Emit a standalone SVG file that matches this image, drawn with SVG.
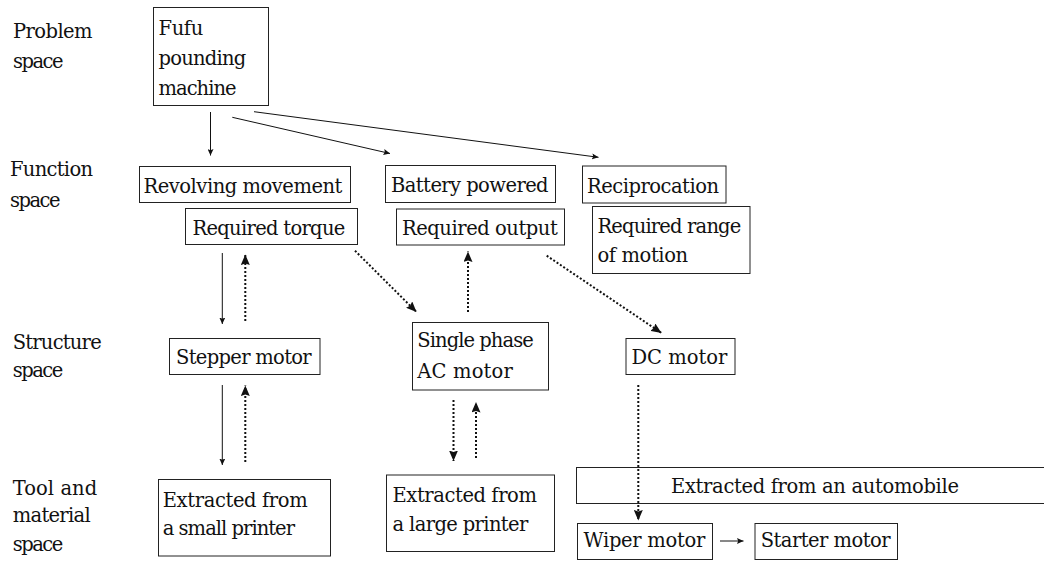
<svg xmlns="http://www.w3.org/2000/svg" width="1044" height="562" viewBox="0 0 1044 562">
  <style>
    .box { fill: #fff; stroke: #222; stroke-width: 1; }
    .solid { stroke: #111; stroke-width: 1; fill: none; marker-end: url(#headSmall); }
    .dotted { stroke: #111; stroke-width: 2; stroke-dasharray: 2 2; fill: none; marker-end: url(#headLarge); }
  </style>
  <defs>
    <marker id="headSmall" markerUnits="userSpaceOnUse" markerWidth="7" markerHeight="6" refX="6.5" refY="3" orient="auto">
      <path d="M0,0 L6.5,3 L0,6 L1.2,3 z" fill="#111"/>
    </marker>
    <marker id="headLarge" markerUnits="userSpaceOnUse" markerWidth="11" markerHeight="9" refX="10.5" refY="4.5" orient="auto">
      <path d="M0,0 L10.5,4.5 L0,9 L1.5,4.5 z" fill="#111"/>
    </marker>
  </defs>

  <g font-family="DejaVu Serif, serif" font-size="19.5" fill="#111">
  <!-- space labels -->
  <g id="labels">
    <text x="13" y="37.7" textLength="79.6">Problem</text>
    <text x="13" y="67.7" textLength="50.5">space</text>
    <text x="10" y="176" textLength="83">Function</text>
    <text x="10" y="206.5" textLength="50.5">space</text>
    <text x="12.7" y="349.3" textLength="89">Structure</text>
    <text x="12.7" y="377" textLength="50.5">space</text>
    <text x="12.7" y="495" textLength="84.5">Tool and</text>
    <text x="12.7" y="522.3" textLength="78">material</text>
    <text x="12.7" y="550.7" textLength="50.5">space</text>
  </g>

  <!-- problem space -->
  <g id="fufu">
    <rect class="box" x="153.5" y="7.5" width="115" height="98"/>
    <text x="158.5" y="34.5" textLength="44.7">Fufu</text>
    <text x="158.5" y="65" textLength="87.7">pounding</text>
    <text x="158.5" y="95" textLength="78">machine</text>
  </g>

  <!-- function space -->
  <g id="revolving">
    <rect class="box" x="139.5" y="166.5" width="211" height="36"/>
    <text x="143.5" y="192.5" textLength="198.9">Revolving movement</text>
  </g>
  <g id="torque">
    <rect class="box" x="185.5" y="208.5" width="172" height="36"/>
    <text x="192.5" y="235" textLength="152.8">Required torque</text>
  </g>
  <g id="battery">
    <rect class="box" x="385.5" y="165.5" width="170" height="37"/>
    <text x="391" y="192" textLength="157.6">Battery powered</text>
  </g>
  <g id="output">
    <rect class="box" x="396.5" y="209" width="168" height="36"/>
    <text x="402" y="235" textLength="155.8">Required output</text>
  </g>
  <g id="reciprocation">
    <rect class="box" x="582.5" y="166" width="143.5" height="37"/>
    <text x="587" y="192.5" textLength="132">Reciprocation</text>
  </g>
  <g id="range">
    <rect class="box" x="592.5" y="206.5" width="157.5" height="67"/>
    <text x="597.5" y="232.7" textLength="143.8">Required range</text>
    <text x="597.5" y="262.3" textLength="90.6">of motion</text>
  </g>

  <!-- structure space -->
  <g id="stepper">
    <rect class="box" x="169.5" y="338.5" width="150.5" height="36"/>
    <text x="176" y="364" textLength="135.7">Stepper motor</text>
  </g>
  <g id="singlephase">
    <rect class="box" x="412.5" y="322.5" width="136" height="67.5"/>
    <text x="417.3" y="346.7" textLength="116.5">Single phase</text>
    <text x="417.3" y="378" textLength="95.5">AC motor</text>
  </g>
  <g id="dcmotor">
    <rect class="box" x="626" y="338.5" width="109" height="36"/>
    <text x="631.5" y="364.3" textLength="95.8">DC motor</text>
  </g>

  <!-- tool and material space -->
  <g id="smallprinter">
    <rect class="box" x="158.5" y="479.5" width="172" height="76.5"/>
    <text x="162.7" y="506.7" textLength="145">Extracted from</text>
    <text x="162.7" y="535" textLength="132.3">a small printer</text>
  </g>
  <g id="largeprinter">
    <rect class="box" x="386.5" y="475" width="168" height="76.5"/>
    <text x="392.5" y="501.7" textLength="144.4">Extracted from</text>
    <text x="392.5" y="530.7" textLength="135.8">a large printer</text>
  </g>
  <g id="automobile">
    <rect class="box" x="576.5" y="467.5" width="480" height="36"/>
    <text x="671" y="492.7" textLength="288">Extracted from an automobile</text>
  </g>
  <g id="wiper">
    <rect class="box" x="577.5" y="523.5" width="135" height="36"/>
    <text x="583.5" y="547" textLength="121.9">Wiper motor</text>
  </g>
  <g id="starter">
    <rect class="box" x="755" y="523.5" width="142.5" height="36"/>
    <text x="760.7" y="547" textLength="129.8">Starter motor</text>
  </g>
  </g>

  <!-- connectors -->
  <g id="connectors">
    <line class="solid" x1="210.5" y1="112" x2="210.5" y2="155.5"/>
    <line class="solid" x1="232.3" y1="117.3" x2="390" y2="153.5"/>
    <line class="solid" x1="254" y1="111.7" x2="598.5" y2="157.3"/>
    <line class="solid" x1="222.3" y1="253" x2="222.3" y2="324"/>
    <line class="solid" x1="222.3" y1="385" x2="222.3" y2="465"/>
    <line class="solid" x1="720" y1="541" x2="743.5" y2="541"/>

    <line class="dotted" x1="245.3" y1="321" x2="245.3" y2="254.5"/>
    <line class="dotted" x1="245.3" y1="462" x2="245.3" y2="385.5"/>
    <line class="dotted" x1="355" y1="250.7" x2="416.5" y2="312"/>
    <line class="dotted" x1="468" y1="312" x2="468" y2="251.5"/>
    <line class="dotted" x1="546.7" y1="255.7" x2="661.5" y2="333"/>
    <line class="dotted" x1="638.3" y1="385" x2="638.3" y2="520.5"/>
    <line class="dotted" x1="453.5" y1="400" x2="453.5" y2="461"/>
    <line class="dotted" x1="476" y1="458" x2="476" y2="402"/>
  </g>
</svg>
